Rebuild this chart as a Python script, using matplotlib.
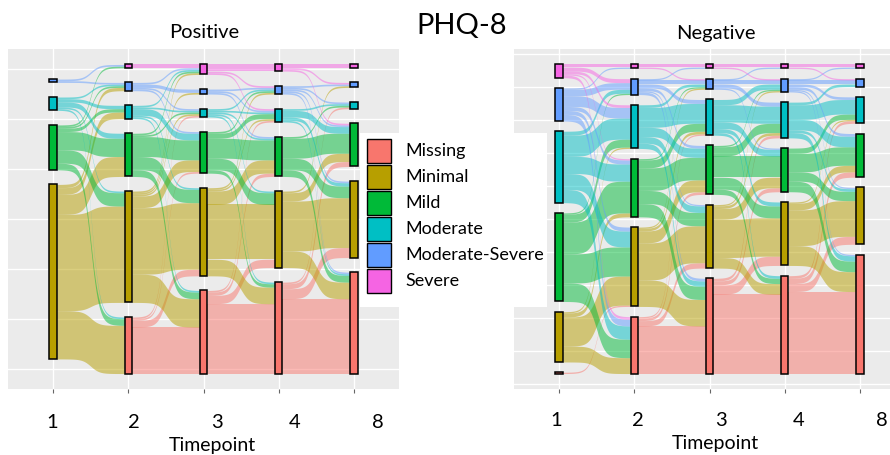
import numpy as np
import matplotlib
matplotlib.use("Agg")
import matplotlib.pyplot as plt
from matplotlib.patches import Rectangle

plt.rcParams['font.family'] = ['Lato', 'DejaVu Sans']

# PHQ-8 severity levels, stacked bottom to top
levels = ["Missing", "Minimal", "Mild", "Moderate", "Moderate-Severe", "Severe"]
colors = ["#F8766D", "#B79F00", "#00BA38", "#00BFC4", "#619CFF", "#F564E3"]
timepoints = ["1", "2", "3", "4", "8"]

# transitions between consecutive timepoints (rows = from, cols = to, order as levels)
pos_1_2 = [[0, 0, 0, 0, 0, 0],
           [29, 58, 12, 4, 2, 0],
           [4, 8, 11, 2, 1, 1],
           [1, 1, 3, 2, 1, 0],
           [0, 0, 0, 0, 1, 1],
           [0, 0, 0, 0, 0, 0]]
pos_2_3 = [[28, 4, 1, 1, 0, 0],
           [17, 40, 7, 1, 1, 1],
           [4, 8, 12, 1, 0, 1],
           [1, 1, 4, 1, 0, 1],
           [0, 0, 1, 1, 2, 1],
           [0, 0, 0, 0, 0, 2]]
pos_3_4 = [[42, 5, 2, 1, 0, 0],
           [10, 33, 8, 1, 1, 0],
           [2, 7, 12, 3, 1, 0],
           [1, 1, 1, 1, 1, 0],
           [0, 0, 1, 1, 1, 0],
           [0, 0, 0, 1, 1, 4]]
pos_4_8 = [[45, 6, 3, 1, 0, 0],
           [10, 30, 5, 0, 1, 0],
           [4, 7, 12, 1, 0, 0],
           [1, 2, 4, 1, 0, 0],
           [1, 1, 1, 1, 1, 0],
           [0, 0, 1, 0, 1, 2]]

neg_1_2 = [[0, 1, 0, 0, 0, 0],
           [12, 22, 3, 1, 0, 0],
           [14, 22, 24, 6, 1, 0],
           [10, 12, 13, 16, 3, 0],
           [5, 3, 3, 8, 5, 1],
           [2, 0, 1, 2, 3, 2]]
neg_2_3 = [[36, 4, 2, 1, 0, 0],
           [20, 28, 9, 2, 1, 0],
           [10, 10, 17, 6, 1, 0],
           [4, 5, 7, 15, 2, 0],
           [2, 1, 2, 3, 3, 1],
           [0, 0, 0, 0, 1, 2]]
neg_3_4 = [[60, 7, 3, 2, 0, 0],
           [8, 29, 8, 2, 1, 0],
           [4, 9, 16, 7, 1, 0],
           [2, 3, 5, 13, 4, 0],
           [0, 0, 1, 3, 3, 1],
           [0, 0, 0, 0, 1, 2]]
neg_4_8 = [[62, 6, 4, 2, 0, 0],
           [15, 27, 5, 1, 0, 0],
           [8, 7, 14, 4, 0, 0],
           [4, 2, 8, 11, 2, 0],
           [1, 1, 2, 2, 3, 1],
           [0, 0, 0, 0, 1, 2]]

positive_flows = [pos_1_2, pos_2_3, pos_3_4, pos_4_8]
negative_flows = [neg_1_2, neg_2_3, neg_3_4, neg_4_8]

W, H = 890, 455


def fx(px):
    return px / W


def fy(py):
    return 1 - py / H


def draw_sankey(ax, flows, gap, width=0.1, smooth=8):
    flows = [np.array(f, dtype=float) for f in flows]
    counts = [T.sum(axis=1) for T in flows] + [flows[-1].sum(axis=0)]

    # node stacks centred on zero with a fixed gap between present nodes
    bottoms, totals = [], []
    for c in counts:
        total = c.sum() + gap * ((c > 0).sum() - 1)
        totals.append(total)
        y = -total / 2
        b = np.full(len(c), np.nan)
        for i in range(len(c)):
            if c[i] > 0:
                b[i] = y
                y += c[i] + gap
        bottoms.append(b)

    t = np.linspace(-smooth, smooth, 120)
    s = 1 / (1 + np.exp(-t))
    s = (s - s[0]) / (s[-1] - s[0])

    for k, T in enumerate(flows):
        x0, x1 = k + 1 + width / 2, k + 2 - width / 2
        xs = x0 + (x1 - x0) * np.linspace(0, 1, len(s))
        out_start = bottoms[k][:, None] + np.cumsum(T, axis=1) - T
        in_start = bottoms[k + 1][None, :] + np.cumsum(T, axis=0) - T
        for i in range(len(levels)):
            for j in range(len(levels)):
                f = T[i, j]
                if f <= 0:
                    continue
                lo = out_start[i, j] + (in_start[i, j] - out_start[i, j]) * s
                ax.fill_between(xs, lo, lo + f, color=colors[i], alpha=0.5, lw=0)

    for k, c in enumerate(counts):
        for i in range(len(levels)):
            if c[i] > 0:
                ax.add_patch(Rectangle((k + 1 - width / 2, bottoms[k][i]), width, c[i],
                                       facecolor=colors[i], edgecolor='black',
                                       lw=1.1, zorder=3))

    lim = max(totals) / 2 * 1.1
    ax.set_ylim(-lim, lim)
    ax.set_xlim(0.4, len(counts) + 0.6)
    return lim


def style_panel(ax, lim, step):
    ax.set_facecolor('#EBEBEB')
    for sp in ax.spines.values():
        sp.set_visible(False)
    ax.set_xticks(range(1, len(timepoints) + 1))
    yt = np.arange(0, lim, step)
    ax.set_yticks(np.concatenate([-yt[:0:-1], yt]))
    ax.grid(color='white', lw=1.0)
    ax.set_axisbelow(True)
    ax.tick_params(axis='x', length=3, width=0.8, color='#666666', labelbottom=False)
    ax.tick_params(axis='y', length=0, labelleft=False)


fig = plt.figure(figsize=(8.9, 4.55), dpi=100)

ax_pos = fig.add_axes([fx(8), fy(389), fx(391), 340 / H])
lim = draw_sankey(ax_pos, positive_flows, gap=8.8)
style_panel(ax_pos, lim, 30)

ax_neg = fig.add_axes([fx(514), fy(389), fx(391), 340 / H])
lim = draw_sankey(ax_neg, negative_flows, gap=7.75)
style_panel(ax_neg, lim, 25)

# titles
fig.text(fx(204), fy(33), "Positive", ha='center', va='center', fontsize=14.5)
fig.text(fx(716), fy(34), "Negative", ha='center', va='center', fontsize=14.5)
fig.text(fx(462), fy(26), "PHQ-8", ha='center', va='center', fontsize=21)

# timepoint labels under each panel
for lab, px in zip(timepoints, [52, 134, 217, 295, 378]):
    fig.text(fx(px), fy(422), lab, ha='center', va='center', fontsize=14.5)
for lab, px in zip(timepoints, [556, 638, 721, 799, 882]):
    fig.text(fx(px), fy(420), lab, ha='center', va='center', fontsize=14.5)
fig.text(fx(212), fy(445), "Timepoint", ha='center', va='center', fontsize=14)
fig.text(fx(715), fy(443), "Timepoint", ha='center', va='center', fontsize=14)

# legend box sitting between the two panels
ax_leg = fig.add_axes([fx(360), fy(307), fx(187), 174 / H], zorder=10)
ax_leg.set_xlim(0, 187)
ax_leg.set_ylim(174, 0)
ax_leg.set_facecolor('white')
ax_leg.set_xticks([])
ax_leg.set_yticks([])
for sp in ax_leg.spines.values():
    sp.set_visible(False)
for i, (lab, col) in enumerate(zip(levels, colors)):
    top = 6 + 26 * i
    ax_leg.add_patch(Rectangle((7, top), 24, 24, facecolor=col, edgecolor='black', lw=1.0))
    ax_leg.text(45, top + 12, lab, ha='left', va='center', fontsize=13)

fig.savefig("out.png", dpi=100)
